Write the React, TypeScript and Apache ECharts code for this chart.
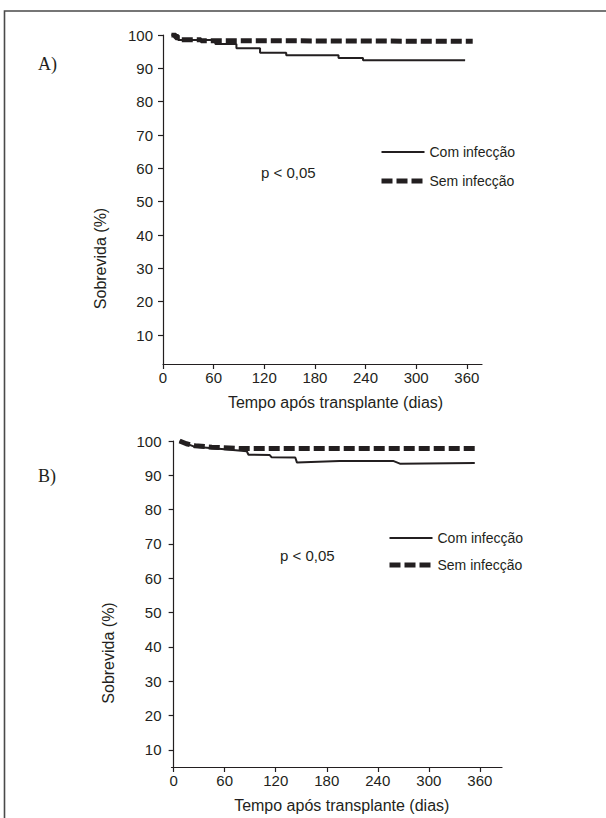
import React, { useEffect, useRef } from "react";
import * as echarts from "echarts";

const xTicks = [0, 60, 120, 180, 240, 300, 360];
const yTicks = [10, 20, 30, 40, 50, 60, 70, 80, 90, 100];
const seriesNames = ["Com infecção", "Sem infecção"];

// Panel A
const aComDays = [10, 18, 62, 87, 115, 146, 208, 237, 358];
const aComSurv = [100, 98.5, 97.3, 96.0, 94.7, 93.9, 93.1, 92.4, 92.4];
const aSemDays = [10, 15, 22, 45, 80, 367];
const aSemSurv = [100, 99.2, 98.6, 98.3, 98.1, 98.0];

// Panel B
const bComDays = [7, 25, 60, 86, 88, 113, 115, 143, 145, 195, 258, 266, 354];
const bComSurv = [100, 98.3, 97.6, 97.0, 96.0, 95.9, 95.3, 95.2, 93.7, 94.2, 94.2, 93.4, 93.6];
const bSemDays = [7, 15, 25, 45, 80, 358];
const bSemSurv = [100, 99.2, 98.6, 98.2, 97.8, 97.8];

const FONT = "'Liberation Sans', Arial, sans-serif";
const INK = "#231f20";

const pair = (xs: number[], ys: number[]) => xs.map((x, i) => [x, ys[i]]);

function xAxisCfg(gridIndex: number, min: number, max: number, padLeft: number) {
  return {
    type: "value",
    gridIndex,
    min,
    max,
    name: "Tempo após transplante (dias)",
    nameLocation: "middle",
    nameGap: 30,
    nameTextStyle: { fontFamily: FONT, fontSize: 16, color: INK, padding: [0, 0, 0, padLeft] },
    axisLine: { show: true, lineStyle: { color: INK, width: 1.2 } },
    axisTick: { show: true, length: 5, customValues: xTicks, lineStyle: { color: INK, width: 1.2 } },
    axisLabel: { customValues: xTicks, fontFamily: FONT, fontSize: 15, color: INK, margin: 6 },
    splitLine: { show: false },
  };
}

function yAxisCfg(gridIndex: number, min: number, padRight: number) {
  return {
    type: "value",
    gridIndex,
    min,
    max: 100,
    name: "Sobrevida (%)",
    nameLocation: "middle",
    nameGap: 55,
    nameTextStyle: { fontFamily: FONT, fontSize: 16, color: INK, padding: [0, padRight, 0, 0] },
    axisLine: { show: true, lineStyle: { color: INK, width: 1.2 } },
    axisTick: { show: true, length: 5, customValues: yTicks, lineStyle: { color: INK, width: 1.2 } },
    axisLabel: { customValues: yTicks, fontFamily: FONT, fontSize: 15, color: INK, margin: 10 },
    splitLine: { show: false },
  };
}

function legendCfg(left: number, top: number, gap: number) {
  return {
    orient: "vertical",
    left,
    top,
    padding: 0,
    itemWidth: 43,
    itemHeight: 16,
    itemGap: gap,
    itemStyle: { opacity: 0 },
    textStyle: { fontFamily: FONT, fontSize: 14, color: INK },
    data: [
      { name: seriesNames[0], itemStyle: { opacity: 0 }, lineStyle: { width: 2, type: "solid", color: INK } },
      { name: seriesNames[1], itemStyle: { opacity: 0 }, lineStyle: { width: 5, type: [11, 4], color: INK } },
    ],
  };
}

export default function App() {
  const ref = useRef<HTMLDivElement>(null);
  useEffect(() => {
    document.body.style.margin = "0";
    if (!ref.current) return;
    const chart = echarts.init(ref.current, null, { renderer: "svg" });
    const solid = { color: INK, width: 2, type: "solid" };
    const dashed = { color: INK, width: 5, type: [11, 4] };
    chart.setOption({
      animation: false,
      backgroundColor: "#ffffff",
      grid: [
        { left: 163, top: 35, width: 319, height: 329 },
        { left: 171.5, top: 441, width: 330.5, height: 326 },
      ],
      xAxis: [xAxisCfg(0, 0, 378, 26), xAxisCfg(1, -2.5, 386, 10)],
      yAxis: [yAxisCfg(0, 1.3, 118), yAxisCfg(1, 5, 98)],
      legend: [legendCfg(379, 145, 15), legendCfg(387, 531, 13)],
      series: [
        { name: seriesNames[0], type: "line", xAxisIndex: 0, yAxisIndex: 0, step: "end", symbol: "none", lineStyle: solid, itemStyle: { color: INK }, data: pair(aComDays, aComSurv) },
        { name: seriesNames[1], type: "line", xAxisIndex: 0, yAxisIndex: 0, step: "end", symbol: "none", lineStyle: dashed, itemStyle: { color: INK }, data: pair(aSemDays, aSemSurv) },
        { name: seriesNames[0], type: "line", xAxisIndex: 1, yAxisIndex: 1, symbol: "none", lineStyle: solid, itemStyle: { color: INK }, data: pair(bComDays, bComSurv) },
        { name: seriesNames[1], type: "line", xAxisIndex: 1, yAxisIndex: 1, symbol: "none", lineStyle: dashed, itemStyle: { color: INK }, data: pair(bSemDays, bSemSurv) },
      ],
      graphic: [
        { type: "rect", silent: true, shape: { x: 4.5, y: 11, width: 700, height: 900 }, style: { fill: "none", stroke: "#4a4a4a", lineWidth: 1.6 } },
        { type: "text", x: 38, y: 64, style: { text: "A)", font: "18px 'Liberation Serif', serif", fill: INK, verticalAlign: "middle" } },
        { type: "text", x: 38, y: 476, style: { text: "B)", font: "18px 'Liberation Serif', serif", fill: INK, verticalAlign: "middle" } },
        { type: "text", x: 261, y: 172, style: { text: "p < 0,05", font: `15px ${FONT}`, fill: INK, verticalAlign: "middle" } },
        { type: "text", x: 280, y: 555, style: { text: "p < 0,05", font: `15px ${FONT}`, fill: INK, verticalAlign: "middle" } },
      ],
    });
    return () => chart.dispose();
  }, []);
  return <div ref={ref} style={{ width: 606, height: 818 }} />;
}
